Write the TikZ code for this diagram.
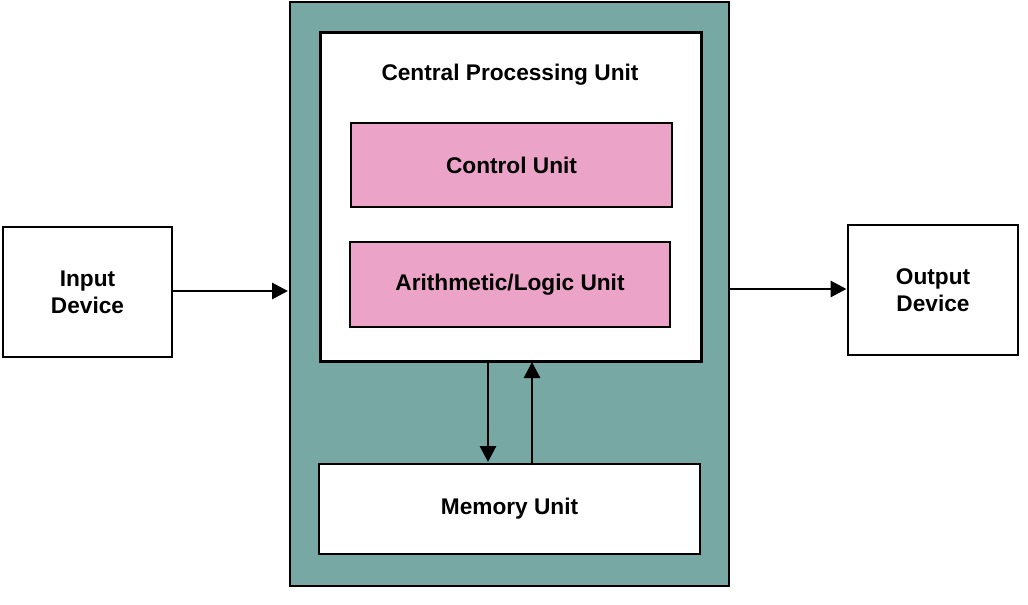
\documentclass[tikz,border=0pt]{standalone}
\usepackage{fontspec}
\setmainfont{Liberation Sans}
\usetikzlibrary{arrows.meta}
\definecolor{teal1}{HTML}{78A8A4}
\definecolor{pink1}{HTML}{EBA3C8}
\begin{document}
\begin{tikzpicture}[x=0.75pt,y=-0.75pt,
  box/.style={draw=black,line width=2.2pt},
  lbl/.style={font=\fontsize{17}{20}\selectfont\bfseries,align=center},
  arr/.style={line width=2.2pt,-{Triangle[length=12pt,width=12pt]}}]
\useasboundingbox (0,0) rectangle (1028,604);
\filldraw[box,fill=teal1] (290,2) rectangle (729,586);
\node[box,fill=white,minimum width=381*0.75pt,minimum height=329*0.75pt,anchor=north west] (cpu) at (319,31) {};
\node[lbl] (title) at (510,75) {Central Processing Unit};
\node[box,fill=pink1,minimum width=321*0.75pt,minimum height=84*0.75pt,lbl] (cu) at (511.5,165) {Control Unit};
\node[box,fill=pink1,minimum width=320*0.75pt,minimum height=85*0.75pt,lbl] (alu) at (510,284.5) {Arithmetic/Logic Unit};
\node[box,fill=white,minimum width=381*0.75pt,minimum height=90*0.75pt,lbl] (mem) at (509.5,509) {Memory Unit};
\node[box,fill=white,minimum width=169*0.75pt,minimum height=130*0.75pt,lbl] (in) at (87.5,292) {Input\\Device};
\node[box,fill=white,minimum width=170*0.75pt,minimum height=130*0.75pt,lbl] (out) at (933,290) {Output\\Device};
\coordinate (inT) at (288,291);
\coordinate (outS) at (729,289);
\draw[arr] (in.east |- inT) -- (inT);
\draw[arr] (outS) -- (out.west |- outS);
\draw[arr] (488,360) -- (488,462);
\draw[arr] (532,464) -- (532,362);
\end{tikzpicture}
\end{document}
